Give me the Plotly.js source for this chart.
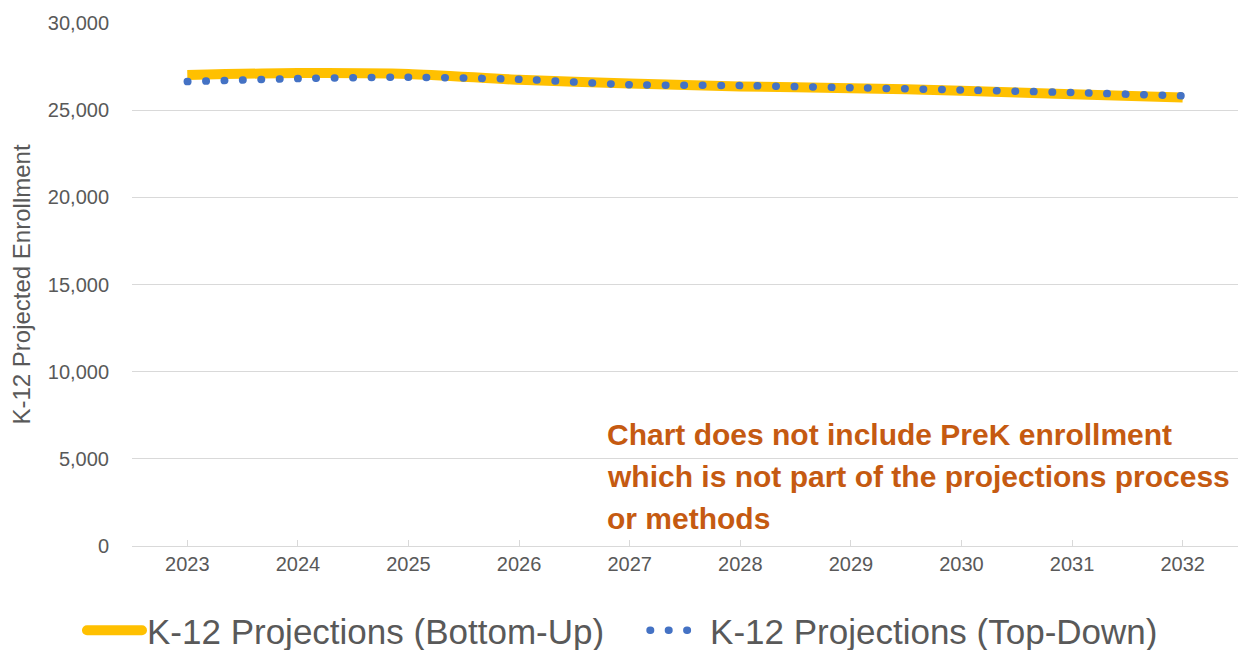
<!DOCTYPE html>
<html>
<head>
<meta charset="utf-8">
<script src="https://cdn.plot.ly/plotly-3.0.1.min.js"></script>
<style>
html,body{margin:0;padding:0;background:#fff;}
#chart{width:1246px;height:650px;}
.scatterlayer .trace:nth-child(2) .js-line{stroke-linecap:round !important;}
.infolayer .js-line{stroke-linecap:round !important;}
</style>
</head>
<body>
<div id="chart"></div>
<script>
const years = [2023, 2024, 2025, 2026, 2027, 2028, 2029, 2030, 2031, 2032];
const bottomUp = [27020, 27130, 27080, 26740, 26530, 26360, 26260, 26120, 25910, 25720];
const topDown = [26640, 26810, 26890, 26770, 26460, 26410, 26290, 26160, 26010, 25820];
const seriesNames = ['K-12 Projections (Bottom-Up)', 'K-12 Projections (Top-Down)'];
const yTickVals = [0, 5000, 10000, 15000, 20000, 25000, 30000];
const yTickText = ['0', '5,000', '10,000', '15,000', '20,000', '25,000', '30,000'];
const noteLines = ['Chart does not include PreK enrollment', 'which is not part of the projections process', 'or methods'];

const font = 'Liberation Sans, Arial, sans-serif';
const grey = '#595959';

const traces = [
  {x: years, y: bottomUp, name: seriesNames[0], type: 'scatter', mode: 'lines', legend: 'legend',
   line: {color: '#FFC000', width: 10, shape: 'spline', smoothing: 0.6}},
  {x: years, y: topDown, name: seriesNames[1], type: 'scatter', mode: 'lines', legend: 'legend2',
   line: {color: '#4472C4', width: 7.5, shape: 'spline', smoothing: 0.6, dash: '0.5px,17.9px'}}
];

const annotations = noteLines.map((t, i) => ({
  text: t, xref: 'paper', yref: 'paper', x: (605 - 132) / (1246 - 140), y: (650 - 104 - (434 + i * 42)) / (650 - 104 - 23),
  xanchor: 'left', yanchor: 'middle', showarrow: false, align: 'left',
  font: {family: font, size: 30, color: '#C55A11', weight: 'bold'}
}));

const legendBase = {orientation: 'h', xref: 'container', xanchor: 'left', y: 0.03, yref: 'container', yanchor: 'middle',
                    font: {size: 35, color: grey}, itemwidth: 55, bgcolor: 'rgba(0,0,0,0)'};

const layout = {
  width: 1246, height: 650,
  margin: {l: 132, r: 8, t: 23, b: 104},
  paper_bgcolor: '#fff', plot_bgcolor: '#fff',
  font: {family: font, color: grey},
  showlegend: true,
  legend: Object.assign({}, legendBase, {x: 0.0658}),
  legend2: Object.assign({}, legendBase, {x: 0.5177}),
  xaxis: {range: [2022.5, 2032.5], tickvals: years, ticktext: years.map(String), tickfont: {size: 20, color: grey},
          showgrid: false, zeroline: false, showline: true, linecolor: '#D9D9D9', linewidth: 1.3,
          ticks: 'inside', ticklen: 6, tickcolor: '#D9D9D9', tickwidth: 1, fixedrange: true},
  yaxis: {range: [0, 30000], tickvals: yTickVals, ticktext: yTickText, tickfont: {size: 20, color: grey},
          showgrid: true, gridcolor: '#D9D9D9', gridwidth: 1, zeroline: false, showline: false, ticks: '', ticklabelstandoff: 22,
          title: {text: 'K-12 Projected Enrollment', font: {size: 24, color: grey}, standoff: 10}, fixedrange: true},
  annotations: annotations
};

Plotly.newPlot('chart', traces, layout, {displayModeBar: false, staticPlot: true});
</script>
</body>
</html>
